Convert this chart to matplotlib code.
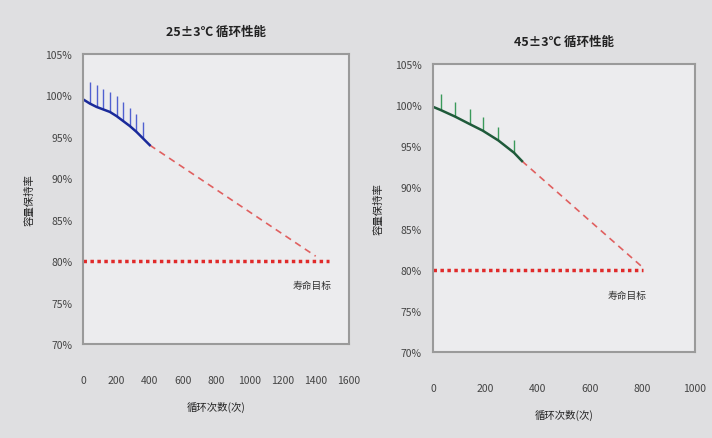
import numpy as np
import matplotlib
matplotlib.use("Agg")
import matplotlib.pyplot as plt

plt.rcParams['font.family'] = ['Noto Sans CJK SC', 'DejaVu Sans']

# 25±3℃ measured cycles / retention (%) and upward error
cycles_25 = [0, 40, 80, 120, 160, 200, 240, 280, 320, 360, 400]
retention_25 = [99.5, 99.0, 98.6, 98.3, 98.0, 97.5, 96.9, 96.3, 95.6, 94.8, 94.0]
err_25 = [0, 2.6, 2.6, 2.5, 2.4, 2.4, 2.3, 2.2, 2.2, 2.0, 0]
forecast_25_x = [400, 1400]
forecast_25_y = [94.0, 80.6]
target_25_x = [0, 1480]

# 45±3℃
cycles_45 = [0, 30, 85, 140, 190, 250, 310, 340]
retention_45 = [99.8, 99.4, 98.6, 97.7, 96.9, 95.7, 94.2, 93.2]
err_45 = [0, 1.9, 1.8, 1.8, 1.7, 1.7, 1.6, 0]
forecast_45_x = [340, 800]
forecast_45_y = [93.2, 80.3]
target_45_x = [0, 800]

target = 80
yticks = [70, 75, 80, 85, 90, 95, 100, 105]
xticks_25 = [0, 200, 400, 600, 800, 1000, 1200, 1400, 1600]
xticks_45 = [0, 200, 400, 600, 800, 1000]

fig = plt.figure(figsize=(7.12, 4.39), dpi=100)
fig.patch.set_facecolor('#dfdfe1')

ax1 = fig.add_axes([0.117, 0.214, 0.373, 0.661])
ax2 = fig.add_axes([0.608, 0.196, 0.368, 0.656])


def style(ax, xmax, xticks):
    ax.set_facecolor('#ececee')
    ax.set_xlim(0, xmax)
    ax.set_ylim(70, 105)
    ax.set_yticks(yticks)
    ax.set_yticklabels([f"{v}%" for v in yticks])
    ax.set_xticks(xticks)
    ax.tick_params(length=0, labelsize=7.5, labelcolor='#444444')
    ax.tick_params(axis='x', pad=22)
    ax.tick_params(axis='y', pad=8)
    for s in ax.spines.values():
        s.set_color('#9a9a9a')
        s.set_linewidth(1.5)


style(ax1, 1600, xticks_25)
style(ax2, 1000, xticks_45)

# left chart
ax1.plot(target_25_x, [target, target], color='#e02a2a', lw=2.5, ls=(0, (1, 1)))
ax1.plot(forecast_25_x, forecast_25_y, color='#e06060', lw=1.2, ls=(0, (4, 3)))
ax1.errorbar(cycles_25, retention_25, yerr=[np.zeros(len(err_25)), err_25],
             color='#1a2a9a', ecolor='#5060d0', elinewidth=1, lw=1.8, capsize=0)
ax1.text(1380, 76.8, "寿命目标", fontsize=7, color='#333333', ha='center')
ax1.set_title("25±3℃ 循环性能", fontsize=9, fontweight='bold', pad=14, color='#222222')
ax1.set_xlabel("循环次数(次)", fontsize=7.5, labelpad=12, color='#222222')
ax1.set_ylabel("容量保持率", fontsize=7.5, labelpad=8, color='#222222')

# right chart
ax2.plot(target_45_x, [target, target], color='#e02a2a', lw=2.5, ls=(0, (1, 1)))
ax2.plot(forecast_45_x, forecast_45_y, color='#e06060', lw=1.2, ls=(0, (4, 3)))
ax2.errorbar(cycles_45, retention_45, yerr=[np.zeros(len(err_45)), err_45],
             color='#1f5a3a', ecolor='#3a9a5a', elinewidth=1, lw=1.8, capsize=0)
ax2.text(740, 76.5, "寿命目标", fontsize=7, color='#333333', ha='center')
ax2.set_title("45±3℃ 循环性能", fontsize=9, fontweight='bold', pad=14, color='#222222')
ax2.set_xlabel("循环次数(次)", fontsize=7.5, labelpad=12, color='#222222')
ax2.set_ylabel("容量保持率", fontsize=7.5, labelpad=8, color='#222222')

fig.savefig("out.png", dpi=100, facecolor=fig.get_facecolor())
